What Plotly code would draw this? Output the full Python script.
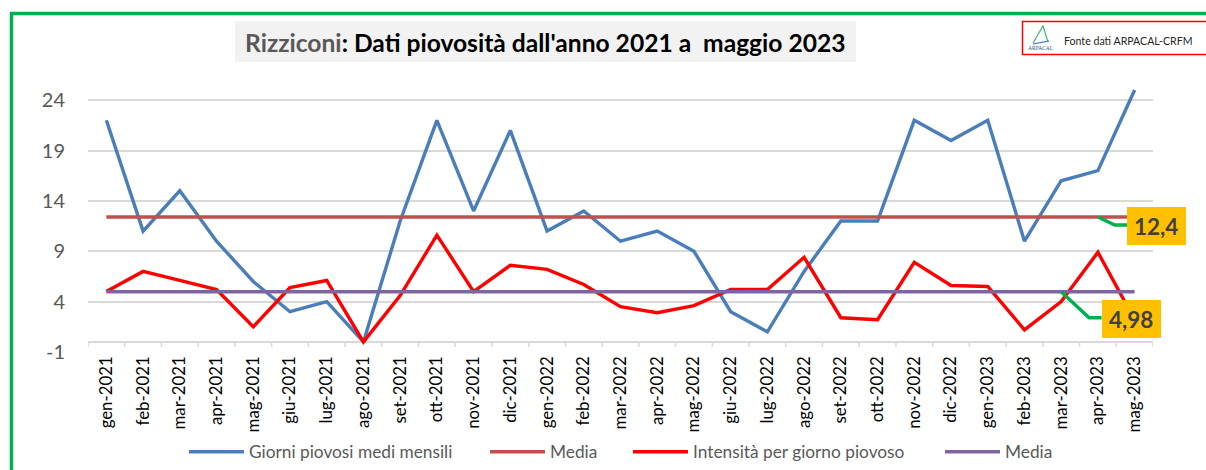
import plotly.graph_objects as go

# Monthly categories, January 2021 to May 2023
mesi = ["gen-2021", "feb-2021", "mar-2021", "apr-2021", "mag-2021", "giu-2021", "lug-2021", "ago-2021",
        "set-2021", "ott-2021", "nov-2021", "dic-2021", "gen-2022", "feb-2022", "mar-2022", "apr-2022",
        "mag-2022", "giu-2022", "lug-2022", "ago-2022", "set-2022", "ott-2022", "nov-2022", "dic-2022",
        "gen-2023", "feb-2023", "mar-2023", "apr-2023", "mag-2023"]
giorni_piovosi = [22, 11, 15, 10, 6, 3, 4, 0, 12, 22, 13, 21, 11, 13, 10, 11, 9, 3, 1, 7, 12, 12, 22, 20,
                  22, 10, 16, 17, 25]
intensita = [5.0, 7.0, 6.1, 5.2, 1.5, 5.4, 6.1, 0.0, 4.6, 10.6, 5.0, 7.6, 7.2, 5.7, 3.5, 2.9, 3.6, 5.2,
             5.2, 8.4, 2.4, 2.2, 7.9, 5.6, 5.5, 1.2, 4.0, 8.9, 2.2]
media_giorni = 12.4
media_intensita = 4.98
y_ticks = [-1, 4, 9, 14, 19, 24]

W, H = 1206, 470
ML, MR, MT, MB = 88, 53, 80, 118
GRID = "#d9d9d9"
GREEN = "#00b050"
LW = 3.4
indici = list(range(len(mesi)))


def px(x):
    return (x - ML) / (W - ML - MR)


def py(y):
    return (H - MB - y) / (H - MT - MB)


def rect(x0, y0, x1, y1, **kw):
    return dict(type="rect", xref="paper", yref="paper", x0=px(x0), x1=px(x1), y0=py(y0), y1=py(y1), **kw)


fig = go.Figure()

# Category-axis ticks hang below the zero line
bordi = [i - 0.5 for i in range(len(mesi) + 1)]
fig.add_trace(go.Scatter(x=bordi, y=[0] * len(bordi), mode="lines", showlegend=False, hoverinfo="skip",
                         line=dict(color=GRID, width=2),
                         error_y=dict(type="data", symmetric=False, array=[0] * len(bordi),
                                      arrayminus=[0.5] * len(bordi), color=GRID, thickness=1.5, width=0)))

# Each series has its own legend so the entries can be spaced freely
fig.add_trace(go.Scatter(x=indici, y=giorni_piovosi, mode="lines", name="Giorni piovosi medi mensili",
                         legend="legend", line=dict(color="#4a7ebb", width=LW)))
fig.add_trace(go.Scatter(x=indici, y=[media_giorni] * len(mesi), mode="lines", name="Media",
                         legend="legend2", line=dict(color="#c0504d", width=LW)))
fig.add_trace(go.Scatter(x=indici, y=intensita, mode="lines", name="Intensità per giorno piovoso",
                         legend="legend3", line=dict(color="#ff0000", width=LW)))
fig.add_trace(go.Scatter(x=indici, y=[media_intensita] * len(mesi), mode="lines", name="Media",
                         legend="legend4", line=dict(color="#8064a2", width=LW)))

# Leader lines from the mean lines to their value labels
fig.add_trace(go.Scatter(x=[27, 27.46, 27.8], y=[media_giorni, 11.6, 11.6], mode="lines", showlegend=False,
                         hoverinfo="skip", line=dict(color=GREEN, width=LW)))
fig.add_trace(go.Scatter(x=[26, 26.76, 27.1], y=[media_intensita, 2.4, 2.4], mode="lines", showlegend=False,
                         hoverinfo="skip", line=dict(color=GREEN, width=LW)))

shapes = [
    # Green frame open at the right and bottom
    dict(type="line", xref="paper", yref="paper", x0=px(10), x1=px(W), y0=py(13.5), y1=py(13.5),
         line=dict(color=GREEN, width=3.5)),
    dict(type="line", xref="paper", yref="paper", x0=px(11.5), x1=px(11.5), y0=py(12), y1=py(H),
         line=dict(color=GREEN, width=3.5)),
    rect(235, 21, 856, 62, fillcolor="#f2f2f2", line=dict(width=0), layer="below"),
    rect(1022.5, 21.5, 1210, 54.5, fillcolor="white", line=dict(color="#ff0000", width=1.5)),
    # Small ARPACAL logo mark
    dict(type="path", xref="paper", yref="paper",
         path=f"M {px(1033)} {py(43)} L {px(1043)} {py(26)} L {px(1048)} {py(42)}",
         line=dict(color="#3cb878", width=1.2)),
    dict(type="line", xref="paper", yref="paper", x0=px(1033), x1=px(1049), y0=py(44), y1=py(41),
         line=dict(color="#2e6fb5", width=1.2)),
    # Value label backgrounds
    rect(1127, 207, 1186, 245, fillcolor="#ffc000", line=dict(width=0)),
    rect(1102, 300, 1161, 338, fillcolor="#ffc000", line=dict(width=0)),
]

annotations = [
    dict(xref="paper", yref="paper", x=px(545), y=py(42), showarrow=False, xanchor="center", yanchor="middle",
         text="<b><span style='color:#595959'>Rizziconi</span>: Dati piovosità dall'anno 2021 a  maggio 2023</b>",
         font=dict(family="Lato", size=24.6, color="#000000")),
    dict(xref="paper", yref="paper", x=px(1128.5), y=py(41), showarrow=False, xanchor="center", yanchor="middle",
         text="Fonte dati ARPACAL-CRFM", font=dict(family="Lato", size=10.6, color="#262626")),
    dict(xref="paper", yref="paper", x=px(1041), y=py(48), showarrow=False, xanchor="center", yanchor="middle",
         text="ARPACAL", font=dict(family="Liberation Serif", size=5.5, color="#2e4a8a")),
    dict(xref="paper", yref="paper", x=px(1156), y=py(226.5), showarrow=False,
         xanchor="center", yanchor="middle",
         text=f"<b>{media_giorni:.1f}</b>".replace(".", ","),
         font=dict(family="Lato", size=22.5, color="#404040")),
    dict(xref="paper", yref="paper", x=px(1131), y=py(319.5), showarrow=False,
         xanchor="center", yanchor="middle",
         text=f"<b>{media_intensita:.2f}</b>".replace(".", ","),
         font=dict(family="Lato", size=22.5, color="#404040")),
]


def legenda(x_left):
    return dict(orientation="h", x=px(x_left), y=py(452), xanchor="left", yanchor="middle",
                font=dict(family="Lato", size=17.3, color="#595959"), itemwidth=55,
                bgcolor="rgba(0,0,0,0)")


fig.update_layout(
    width=W, height=H, autosize=False,
    margin=dict(l=ML, r=MR, t=MT, b=MB, pad=0, autoexpand=False),
    paper_bgcolor="white", plot_bgcolor="white",
    font=dict(family="Lato"),
    shapes=shapes, annotations=annotations,
    legend=legenda(184), legend2=legenda(485), legend3=legenda(628), legend4=legenda(940),
    xaxis=dict(range=[-0.5, len(mesi) - 0.5], tickmode="array", tickvals=indici, ticktext=mesi, tickangle=-90,
               showgrid=False, zeroline=False, showline=False, ticks="",
               tickfont=dict(family="Lato", size=16.8, color="#000000")),
    yaxis=dict(range=[-1, 26], tickmode="array", tickvals=y_ticks, ticktext=[str(v) for v in y_ticks],
               showgrid=True, gridcolor=GRID, gridwidth=2, zeroline=False, showline=False, ticks="",
               ticklabelstandoff=22, tickfont=dict(family="Lato", size=20, color="#595959")),
)

fig.write_html("out.html")
